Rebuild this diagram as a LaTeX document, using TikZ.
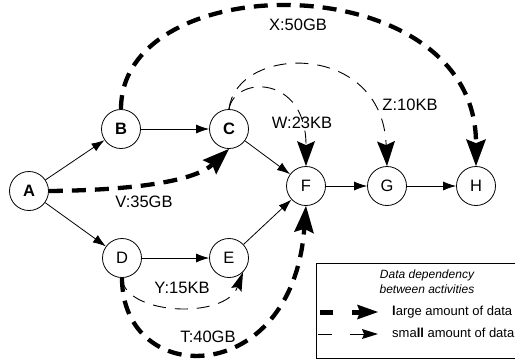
\documentclass[tikz,border=0pt]{standalone}
\usepackage{fontspec}
\setmainfont{Liberation Sans}
\usetikzlibrary{arrows.meta}
\begin{document}
\begin{tikzpicture}[x=1pt,y=-1pt,
  act/.style={circle,draw,line width=0.8pt,minimum size=39pt,inner sep=0pt,font=\fontsize{16.5}{18}\selectfont},
  actb/.style={act,font=\fontsize{16.5}{18}\selectfont\bfseries},
  flow/.style={line width=0.8pt,-{Latex[length=13pt,width=9pt]}},
  bigdata/.style={line width=4.3pt,dash pattern=on 14pt off 9pt,-{Stealth[length=27pt,width=20pt,inset=4pt,line width=0pt]}},
  smalldata/.style={line width=0.9pt,dash pattern=on 13pt off 9pt,-{Stealth[length=25pt,width=18pt,inset=4pt,line width=0pt]}},
  lbl/.style={font=\fontsize{16.5}{18}\selectfont,inner sep=0pt},
  legtext/.style={font=\fontsize{13}{15}\selectfont,inner sep=0pt,anchor=west},
  legtitle/.style={font=\fontsize{12}{14}\selectfont\itshape,inner sep=0pt}
]
\useasboundingbox (0,0) rectangle (515,360);
% activities
\node[actb] (A) at (29,191) {A};
\node[actb] (B) at (121,129) {B};
\node[actb] (C) at (229,129) {C};
\node[act] (D) at (122,258) {D};
\node[act] (E) at (229,258) {E};
\node[act] (F) at (306,186) {F};
\node[act] (G) at (387,186) {G};
\node[act] (H) at (476,186) {H};
% control flow
\draw[flow] (A) -- (B);
\draw[flow] (A) -- (D);
\draw[flow] (B) -- (C);
\draw[flow] (D) -- (E);
\draw[flow] (C) -- (F);
\draw[flow] (E) -- (F);
\draw[flow] (F) -- (G);
\draw[flow] (G) -- (H);
% data dependencies
\draw[bigdata] (B.north) .. controls (121,-35) and (476,-35) .. (H.north);
\draw[smalldata] (C.north) .. controls (236,45) and (382,40) .. (G.north);
\draw[smalldata] (C.north) .. controls (235,75) and (306,75) .. (F.north);
\draw[bigdata] (A.east) .. controls (150,190) and (198,178) .. (C.south);
\draw[smalldata,-{Stealth[length=19pt,width=11pt,inset=3pt,line width=0pt]}] (D.south) .. controls (124,315) and (225,320) .. (E.south east);
\draw[bigdata] (D.south) .. controls (122,389) and (292,389) .. (F.south);
% labels
\node[lbl] (lx) at (298,25) {X:50GB};
\node[lbl] (lw) at (302,123) {W:23KB};
\node[lbl] (lz) at (410,105) {Z:10KB};
\node[lbl] (lv) at (144,202) {V:35GB};
\node[lbl] (ly) at (182,288) {Y:15KB};
\node[lbl] (lt) at (208,337) {T:40GB};
% legend
\node[draw,line width=0.8pt,anchor=north west,minimum width=214pt,minimum height=95pt,inner sep=0pt] (legend) at (316,263) {};
\node[legtitle] (lg1) at (427,275) {Data dependency};
\node[legtitle] (lg2) at (427,289) {between activities};
\coordinate (k1a) at (320,312);
\coordinate (k1b) at (333,312);
\coordinate (k1c) at (352,312);
\coordinate (k1d) at (378,312);
\coordinate (k2a) at (318,334);
\coordinate (k2b) at (332,334);
\coordinate (k2c) at (350,334);
\coordinate (k2d) at (378,334);
\draw[line width=5pt] (k1a) -- (k1b);
\draw[line width=5pt,-{Stealth[length=21pt,width=15pt,inset=3pt,line width=0pt]}] (k1c) -- (k1d);
\draw[line width=0.9pt] (k2a) -- (k2b);
\draw[line width=0.9pt,-{Stealth[length=16pt,width=10pt,inset=2pt,line width=0pt]}] (k2c) -- (k2d);
\node[legtext] (lk1) at (392,312) {\textbf{l}arge amount of data};
\node[legtext] (lk2) at (392,333) {sma\textbf{ll} amount of data};
\end{tikzpicture}
\end{document}
